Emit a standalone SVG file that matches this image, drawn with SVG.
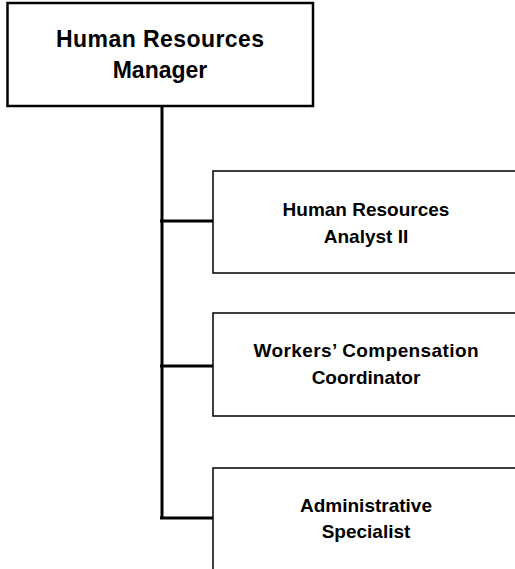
<svg xmlns="http://www.w3.org/2000/svg" width="515" height="569" viewBox="0 0 515 569">
<style>
  .box{fill:#fff;stroke:#000;stroke-width:1.5}
  .top{fill:#fff;stroke:#000;stroke-width:2.5}
  .conn{fill:none;stroke:#000;stroke-width:3}
  text{font-family:"Liberation Sans",Arial,sans-serif;font-weight:bold;fill:#000;text-anchor:middle}
  .t1{font-size:23px}
  .t2{font-size:19px}
</style>
<rect width="515" height="569" fill="#fff"/>
<g id="connectors">
  <path class="conn" d="M162,106 V518"/>
  <path class="conn" d="M160,221 H213"/>
  <path class="conn" d="M160,366 H213"/>
  <path class="conn" d="M160,518 H213"/>
</g>
<g id="manager">
  <rect class="top" x="7.5" y="3" width="305.5" height="103"/>
  <text class="t1" x="160" y="47" textLength="208">Human Resources</text>
  <text class="t1" x="160" y="78">Manager</text>
</g>
<g id="analyst">
  <rect class="box" x="213" y="171" width="306" height="102"/>
  <text class="t2" x="366" y="216">Human Resources</text>
  <text class="t2" x="366" y="243">Analyst II</text>
</g>
<g id="workers-comp">
  <rect class="box" x="213" y="313" width="306" height="103"/>
  <text class="t2" x="366" y="357" textLength="225">Workers’ Compensation</text>
  <text class="t2" x="366" y="384">Coordinator</text>
</g>
<g id="admin">
  <rect class="box" x="213" y="468" width="306" height="103"/>
  <text class="t2" x="366" y="512">Administrative</text>
  <text class="t2" x="366" y="538">Specialist</text>
</g>
</svg>
